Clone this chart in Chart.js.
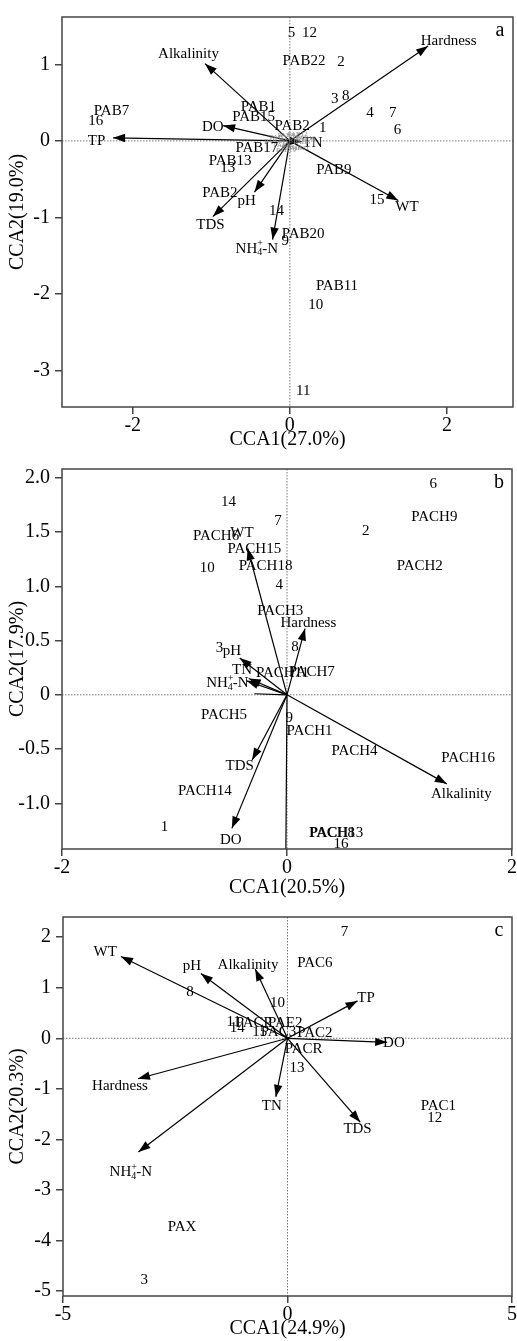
<!DOCTYPE html>
<html>
<head>
<meta charset="utf-8">
<script src="https://cdn.jsdelivr.net/npm/chart.js@4.4.1/dist/chart.umd.min.js"></script>
<style>
  body { margin: 0; background: #fff; width: 517px; height: 1341px; position: relative; overflow: hidden; }
  .panel { position: absolute; left: 0; width: 517px; }
</style>
</head>
<body>
<div class="panel" style="top:0;height:452px"><canvas id="chartA"></canvas></div>
<div class="panel" style="top:452px;height:448px"><canvas id="chartB"></canvas></div>
<div class="panel" style="top:900px;height:441px"><canvas id="chartC"></canvas></div>
<script>
// ---- panel a ----
const aEnvNames = ['Hardness', 'Alkalinity', 'DO', 'TP', 'TN', 'WT', 'pH', 'TDS', 'NH4+-N'];
const aEnvX = [1.76, -1.08, -0.85, -2.25, 0.15, 1.38, -0.45, -0.98, -0.22];
const aEnvY = [1.24, 1.01, 0.20, 0.04, -0.01, -0.78, -0.67, -0.99, -1.29];
const aEnvLabX = [2.02, -1.29, -0.98, -2.46, 0.29, 1.49, -0.55, -1.01, -0.42];
const aEnvLabY = [1.30, 1.13, 0.18, 0.00, -0.03, -0.87, -0.79, -1.10, -1.41];
const aNames = ['PAB7', '16', 'PAB1', 'PAB15', 'PAB2', '1', 'PAB17', 'PAB13', '13', 'PAB9', 'PAB2',
  '15', '14', 'PAB20', '9', 'PAB11', '10', '11', '5', '12', 'PAB22', '2', '3', '8', '4', '7', '6'];
const aX = [-2.27, -2.47, -0.40, -0.46, 0.03, 0.42, -0.42, -0.76, -0.79, 0.56, -0.89,
  1.11, -0.17, 0.17, -0.06, 0.60, 0.33, 0.17, 0.02, 0.25, 0.18, 0.65, 0.57, 0.71, 1.02, 1.31, 1.37];
const aY = [0.39, 0.26, 0.44, 0.31, 0.19, 0.17, -0.09, -0.26, -0.36, -0.38, -0.68,
  -0.78, -0.92, -1.22, -1.31, -1.90, -2.15, -3.27, 1.41, 1.41, 1.04, 1.03, 0.55, 0.58, 0.36, 0.36, 0.14];
const aMinorNames = ['PAB3', 'PAB4', 'PAB5', 'PAB6', 'PAB8', 'PAB10', 'PAB12', 'PAB14', 'PAB16', 'PAB18', 'PAB19', 'PAB21'];
const aMinorX = [-0.15, -0.05, 0.08, 0.15, -0.10, 0.02, 0.10, -0.20, 0.20, 0.00, -0.05, 0.12];
const aMinorY = [0.05, 0.08, 0.03, -0.02, -0.05, -0.08, 0.09, 0.00, 0.04, 0.00, -0.12, -0.10];
const aXTicks = [-2, 0, 2];
const aYTicks = [-3, -2, -1, 0, 1];

// ---- panel b ----
const bEnvNames = ['WT', 'Hardness', 'pH', 'TN', 'NH4+-N', '', 'TDS', 'DO', 'Alkalinity', ''];
const bEnvX = [-0.35, 0.16, -0.42, -0.34, -0.36, -0.29, -0.31, -0.49, 1.42, -0.01];
const bEnvY = [1.35, 0.61, 0.34, 0.15, 0.13, 0.01, -0.60, -1.23, -0.82, -1.42];
const bEnvLabX = [-0.40, 0.19, -0.49, -0.40, -0.53, -0.29, -0.42, -0.50, 1.55, 0];
const bEnvLabY = [1.49, 0.66, 0.40, 0.23, 0.11, 0.01, -0.66, -1.34, -0.91, -1.42];
const bNames = ['6', '14', '7', 'PACH9', '2', 'PACH6', 'PACH15', '10', 'PACH18', 'PACH2', '4', 'PACH3',
  '8', '3', 'PACH11', 'PACH7', 'PACH5', '9', 'PACH1', 'PACH4', 'PACH16', 'PACH14', '1', 'PACH8', 'PACH13', '16'];
const bX = [1.30, -0.52, -0.08, 1.31, 0.70, -0.63, -0.29, -0.71, -0.19, 1.18, -0.07, -0.06,
  0.07, -0.60, -0.04, 0.22, -0.56, 0.02, 0.20, 0.60, 1.61, -0.73, -1.09, 0.40, 0.44, 0.48];
const bY = [1.94, 1.78, 1.60, 1.64, 1.51, 1.46, 1.34, 1.17, 1.19, 1.19, 1.01, 0.77,
  0.44, 0.43, 0.20, 0.21, -0.19, -0.21, -0.33, -0.52, -0.58, -0.89, -1.22, -1.27, -1.27, -1.37];
const bXTicks = [-2, 0, 2];
const bYTicks = [-1.0, -0.5, 0, 0.5, 1.0, 1.5, 2.0];

// ---- panel c ----
const cEnvNames = ['WT', 'pH', 'Alkalinity', 'TP', 'DO', 'Hardness', 'TN', 'TDS', 'NH4+-N'];
const cEnvX = [-3.71, -1.93, -0.72, 1.56, 2.22, -3.33, -0.26, 1.62, -3.32];
const cEnvY = [1.62, 1.28, 1.37, 0.74, -0.08, -0.80, -1.16, -1.66, -2.25];
const cEnvLabX = [-4.06, -2.13, -0.88, 1.75, 2.37, -3.73, -0.35, 1.56, -3.49];
const cEnvLabY = [1.70, 1.43, 1.45, 0.80, -0.10, -0.95, -1.35, -1.79, -2.65];
const cNames = ['7', 'PAC6', '8', '10', 'PAC1', '12', 'PAX', '3', '13', 'PACR', 'PAC2',
  '11', 'PACP', 'PAE2', '14', '15', 'PAC3'];
const cX = [1.27, 0.61, -2.17, -0.22, 3.36, 3.28, -2.35, -3.19, 0.21, 0.36, 0.61,
  -1.20, -0.75, -0.05, -1.12, -0.62, -0.20];
const cY = [2.10, 1.49, 0.92, 0.69, -1.35, -1.58, -3.74, -4.79, -0.59, -0.21, 0.11,
  0.32, 0.30, 0.30, 0.20, 0.12, 0.12];
const cXTicks = [-5, 0, 5];
const cYTicks = [-5, -4, -3, -2, -1, 0, 1, 2];

const SERIF = '"Liberation Serif", "DejaVu Serif", serif';

function pts(xs, ys) {
  return xs.map((x, i) => ({ x: x, y: ys[i] }));
}

function drawName(ctx, text, x, y, size, color) {
  ctx.fillStyle = color;
  ctx.textBaseline = 'middle';
  if (text === 'NH4+-N') {
    ctx.font = size + 'px ' + SERIF;
    const w1 = ctx.measureText('NH').width;
    const w3 = ctx.measureText('-N').width;
    ctx.font = Math.round(size * 0.65) + 'px ' + SERIF;
    const w2 = ctx.measureText('4').width;
    let sx = x - (w1 + w2 + w3) / 2;
    ctx.textAlign = 'left';
    ctx.font = size + 'px ' + SERIF;
    ctx.fillText('NH', sx, y);
    ctx.font = Math.round(size * 0.65) + 'px ' + SERIF;
    ctx.fillText('+', sx + w1, y - 5);
    ctx.fillText('4', sx + w1, y + 4);
    ctx.font = size + 'px ' + SERIF;
    ctx.fillText('-N', sx + w1 + w2, y);
    return;
  }
  ctx.textAlign = 'center';
  ctx.font = size + 'px ' + SERIF;
  ctx.fillText(text, x, y);
}

function biplotPlugin(sets, letter) {
  return {
    id: 'biplot' + letter,
    beforeDatasetsDraw(chart) {
      const { ctx, chartArea: ca, scales } = chart;
      const x0 = scales.x.getPixelForValue(0);
      const y0 = scales.y.getPixelForValue(0);
      ctx.save();
      ctx.strokeStyle = '#777';
      ctx.lineWidth = 1;
      ctx.setLineDash([1.5, 1.5]);
      ctx.beginPath();
      ctx.moveTo(x0, ca.top); ctx.lineTo(x0, ca.bottom);
      ctx.moveTo(ca.left, y0); ctx.lineTo(ca.right, y0);
      ctx.stroke();
      ctx.restore();
    },
    afterDatasetsDraw(chart) {
      const { ctx, chartArea: ca, scales } = chart;
      const ox = scales.x.getPixelForValue(0);
      const oy = scales.y.getPixelForValue(0);
      ctx.save();
      // environmental vectors (dataset 1), labels anchored on dataset 2
      const tips = chart.getDatasetMeta(1).data;
      const labs = chart.getDatasetMeta(2).data;
      tips.forEach((el, i) => {
        const name = sets.env[i];
        ctx.strokeStyle = '#000';
        ctx.fillStyle = '#000';
        ctx.lineWidth = 1.2;
        ctx.beginPath();
        ctx.moveTo(ox, oy);
        ctx.lineTo(el.x, el.y);
        ctx.stroke();
        if (!name) return;
        const ang = Math.atan2(el.y - oy, el.x - ox);
        const L = 12, W = 4.2;
        ctx.beginPath();
        ctx.moveTo(el.x, el.y);
        ctx.lineTo(el.x - L * Math.cos(ang) + W * Math.sin(ang), el.y - L * Math.sin(ang) - W * Math.cos(ang));
        ctx.lineTo(el.x - L * Math.cos(ang) - W * Math.sin(ang), el.y - L * Math.sin(ang) + W * Math.cos(ang));
        ctx.closePath();
        ctx.fill();
        drawName(ctx, name, labs[i].x, labs[i].y, 15, '#000');
      });
      // gray minor cluster (dataset 3 if present)
      if (sets.minor) {
        chart.getDatasetMeta(3).data.forEach((el, i) => {
          drawName(ctx, sets.minor[i], el.x, el.y, 7, '#888');
        });
      }
      // species and site labels (dataset 0)
      chart.getDatasetMeta(0).data.forEach((el, i) => {
        drawName(ctx, sets.names[i], el.x, el.y, 15, '#000');
      });
      // frame
      ctx.strokeStyle = '#444';
      ctx.lineWidth = 1.5;
      ctx.setLineDash([]);
      ctx.strokeRect(ca.left, ca.top, ca.right - ca.left, ca.bottom - ca.top);
      // panel letter
      ctx.fillStyle = '#000';
      ctx.font = '20px ' + SERIF;
      ctx.textAlign = 'center';
      ctx.textBaseline = 'middle';
      ctx.fillText(letter, ca.right - 13, ca.top + 14);
      ctx.restore();
    }
  };
}

function axis(min, max, tickVals, title, fmt, isX, box) {
  return {
    type: 'linear',
    min: min,
    max: max,
    afterBuildTicks: s => { s.ticks = tickVals.map(v => ({ value: v })); },
    afterFit: s => { if (isX) s.height = box; else s.width = box; },
    grid: { display: true, drawOnChartArea: false, drawTicks: true, tickLength: 7, color: '#444', lineWidth: 1.5 },
    border: { display: false },
    ticks: {
      color: '#000',
      padding: isX ? 0 : 5,
      font: { family: SERIF, size: 20 },
      maxRotation: 0,
      callback: fmt
    },
    title: {
      display: true,
      text: title,
      color: '#000',
      font: { family: SERIF, size: 20 },
      padding: isX ? { top: 0, bottom: 0 } : { top: 6, bottom: 0 }
    }
  };
}

const plainFmt = v => String(v);
const oneDecFmt = v => (v === 0 ? '0' : v.toFixed(1));

function makeChart(id, p) {
  const datasets = [
    { data: pts(p.x, p.y), pointRadius: 0 },
    { data: pts(p.envX, p.envY), pointRadius: 0 },
    { data: pts(p.labX, p.labY), pointRadius: 0 }
  ];
  if (p.minor) datasets.push({ data: pts(p.minorX, p.minorY), pointRadius: 0 });
  return new Chart(document.getElementById(id), {
    type: 'scatter',
    data: { datasets: datasets },
    options: {
      responsive: true,
      maintainAspectRatio: false,
      animation: false,
      events: [],
      layout: { padding: { top: p.padTop, right: p.padRight, bottom: 0, left: 0 } },
      plugins: { legend: { display: false }, tooltip: { enabled: false } },
      scales: {
        x: axis(p.xMin, p.xMax, p.xTicks, p.xTitle, plainFmt, true, p.xBox),
        y: axis(p.yMin, p.yMax, p.yTicks, p.yTitle, p.yFmt, false, p.yBox)
      }
    },
    plugins: [biplotPlugin({ env: p.env, names: p.names, minor: p.minor }, p.letter)]
  });
}

makeChart('chartA', {
  names: aNames, x: aX, y: aY,
  env: aEnvNames, envX: aEnvX, envY: aEnvY, labX: aEnvLabX, labY: aEnvLabY,
  minor: aMinorNames, minorX: aMinorX, minorY: aMinorY,
  xMin: -2.90, xMax: 2.84, yMin: -3.48, yMax: 1.62,
  xTicks: aXTicks, yTicks: aYTicks, yFmt: plainFmt,
  xTitle: 'CCA1(27.0%)', yTitle: 'CCA2(19.0%)',
  padTop: 7, padRight: 4, xBox: 45, yBox: 62, letter: 'a'
});

makeChart('chartB', {
  names: bNames, x: bX, y: bY,
  env: bEnvNames, envX: bEnvX, envY: bEnvY, labX: bEnvLabX, labY: bEnvLabY,
  xMin: -2, xMax: 2, yMin: -1.42, yMax: 2.08,
  xTicks: bXTicks, yTicks: bYTicks, yFmt: oneDecFmt,
  xTitle: 'CCA1(20.5%)', yTitle: 'CCA2(17.9%)',
  padTop: 2, padRight: 4, xBox: 51, yBox: 62, letter: 'b'
});

makeChart('chartC', {
  names: cNames, x: cX, y: cY,
  env: cEnvNames, envX: cEnvX, envY: cEnvY, labX: cEnvLabX, labY: cEnvLabY,
  xMin: -5, xMax: 5, yMin: -5.10, yMax: 2.40,
  xTicks: cXTicks, yTicks: cYTicks, yFmt: plainFmt,
  xTitle: 'CCA1(24.9%)', yTitle: 'CCA2(20.3%)',
  padTop: 3, padRight: 2, xBox: 45, yBox: 63, letter: 'c'
});
</script>
</body>
</html>
